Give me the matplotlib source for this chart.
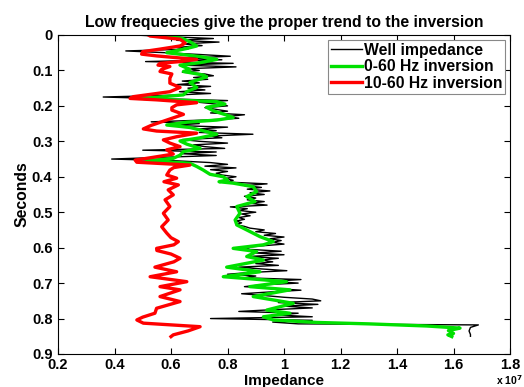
import numpy as np
import matplotlib
matplotlib.use("Agg")
import matplotlib.pyplot as plt
from matplotlib.ticker import FuncFormatter

plt.rcParams['font.family'] = ['Liberation Sans', 'DejaVu Sans']
plt.rcParams['font.weight'] = 'bold'

# impedance values in units of 1e7, time in seconds
well_t = [0.000, 0.005, 0.010, 0.015, 0.020, 0.025, 0.030, 0.035, 0.040, 0.045,
          0.050, 0.055, 0.060, 0.065, 0.070, 0.075, 0.080, 0.085, 0.090, 0.095,
          0.100, 0.105, 0.110, 0.115, 0.120, 0.125, 0.130, 0.135, 0.140, 0.145,
          0.150, 0.155, 0.160, 0.165, 0.170, 0.175, 0.180, 0.185, 0.190, 0.195,
          0.200, 0.205, 0.210, 0.215, 0.220, 0.225, 0.230, 0.235, 0.240, 0.245,
          0.250, 0.255, 0.260, 0.265, 0.270, 0.275, 0.280, 0.285, 0.290, 0.295,
          0.300, 0.305, 0.310, 0.315, 0.320, 0.325, 0.330, 0.335, 0.340, 0.345,
          0.350, 0.355, 0.360, 0.365, 0.370, 0.375, 0.380, 0.385, 0.390, 0.395,
          0.400, 0.405, 0.410, 0.415, 0.420, 0.425, 0.430, 0.435, 0.440, 0.445,
          0.450, 0.455, 0.460, 0.465, 0.470, 0.475, 0.480, 0.485, 0.490, 0.495,
          0.500, 0.505, 0.510, 0.515, 0.520, 0.525, 0.530, 0.535, 0.540, 0.545,
          0.550, 0.555, 0.560, 0.565, 0.570, 0.575, 0.580, 0.585, 0.590, 0.595,
          0.600, 0.605, 0.610, 0.615, 0.620, 0.625, 0.630, 0.635, 0.640, 0.645,
          0.650, 0.655, 0.660, 0.665, 0.670, 0.675, 0.680, 0.685, 0.690, 0.695,
          0.700, 0.705, 0.710, 0.715, 0.720, 0.725, 0.730, 0.735, 0.740, 0.745,
          0.750, 0.755, 0.760, 0.765, 0.770, 0.775, 0.780, 0.785, 0.790, 0.795,
          0.800, 0.805, 0.810, 0.815, 0.818, 0.825, 0.835, 0.845, 0.850]
well_v = [0.47, 0.60, 0.75, 0.62, 0.77, 0.64, 0.71, 0.62, 0.66, 0.44,
          0.58, 0.70, 0.81, 0.66, 0.78, 0.51, 0.82, 0.63, 0.83, 0.66,
          0.70, 0.64, 0.72, 0.75, 0.68, 0.73, 0.64, 0.70, 0.62, 0.74,
          0.66, 0.72, 0.63, 0.74, 0.60, 0.36, 0.58, 0.80, 0.70, 0.76,
          0.80, 0.72, 0.76, 0.80, 0.74, 0.86, 0.80, 0.84, 0.72, 0.53,
          0.70, 0.60, 0.80, 0.70, 0.76, 0.70, 0.89, 0.74, 0.78, 0.64,
          0.70, 0.80, 0.68, 0.72, 0.79, 0.50, 0.76, 0.64, 0.76, 0.58,
          0.39, 0.62, 0.74, 0.80, 0.72, 0.83, 0.74, 0.80, 0.76, 0.78,
          0.83, 0.79, 0.82, 0.80, 0.94, 0.86, 0.92, 0.87, 0.95, 0.88,
          0.93, 0.86, 0.90, 0.87, 0.93, 0.88, 0.94, 0.81, 0.87, 0.84,
          0.90, 0.85, 0.88, 0.84, 0.86, 0.83, 0.85, 0.83, 0.86, 0.88,
          0.93, 0.90, 0.97, 0.93, 1.00, 0.95, 0.99, 0.96, 1.00, 0.92,
          0.86, 0.88, 0.99, 0.90, 1.00, 0.87, 0.98, 0.92, 0.96, 0.90,
          0.98, 0.84, 0.92, 1.01, 0.88, 0.80, 0.90, 0.86, 1.06, 0.95,
          1.05, 0.92, 0.86, 0.96, 1.06, 0.95, 0.85, 0.93, 1.00, 1.10,
          1.13, 0.98, 1.12, 1.00, 1.10, 0.96, 0.84, 1.05, 0.98, 1.10,
          0.74, 1.10, 0.96, 1.05, 1.688, 1.66, 1.655, 1.66, 1.66]

green_t = [0.000, 0.010, 0.019, 0.031, 0.038, 0.050, 0.061, 0.069, 0.078, 0.085,
           0.097, 0.103, 0.113, 0.118, 0.134, 0.148, 0.160, 0.169, 0.179, 0.183,
           0.188, 0.195, 0.204, 0.214, 0.226, 0.233, 0.240, 0.246, 0.254, 0.261,
           0.268, 0.280, 0.290, 0.299, 0.308, 0.320, 0.329, 0.339, 0.348, 0.355,
           0.362, 0.371, 0.381, 0.393, 0.400, 0.409, 0.414, 0.418, 0.428, 0.442,
           0.456, 0.470, 0.484, 0.503, 0.522, 0.536, 0.550, 0.569, 0.583, 0.592,
           0.602, 0.611, 0.625, 0.635, 0.655, 0.668, 0.682, 0.696, 0.710, 0.719,
           0.738, 0.757, 0.776, 0.785, 0.795, 0.804, 0.811, 0.815, 0.821, 0.827,
           0.834, 0.842, 0.846, 0.851]
green_v = [0.58, 0.64, 0.667, 0.691, 0.656, 0.585, 0.703, 0.762, 0.703, 0.632,
           0.667, 0.644, 0.714, 0.726, 0.667, 0.691, 0.656, 0.644, 0.502, 0.60,
           0.762, 0.791, 0.726, 0.75, 0.797, 0.82, 0.762, 0.656, 0.585, 0.667,
           0.703, 0.762, 0.703, 0.632, 0.656, 0.703, 0.644, 0.632, 0.608, 0.514,
           0.667, 0.691, 0.714, 0.738, 0.785, 0.80, 0.77, 0.82, 0.891, 0.903,
           0.868, 0.897, 0.833, 0.844, 0.827, 0.833, 0.868, 0.915, 0.962, 0.927,
           0.82, 0.903, 0.868, 0.927, 0.797, 0.915, 0.785, 1.009, 0.879, 1.021,
           0.891, 1.033, 0.939, 1.021, 0.927, 0.962, 1.116, 1.30, 1.505, 1.623,
           1.582, 1.60, 1.58, 1.594]

red_t = [0.000, 0.003, 0.012, 0.023, 0.031, 0.040, 0.047, 0.054, 0.059, 0.069,
         0.075, 0.080, 0.085, 0.089, 0.097, 0.103, 0.110, 0.122, 0.136, 0.148,
         0.160, 0.174, 0.179, 0.183, 0.191, 0.197, 0.205, 0.212, 0.224, 0.240,
         0.255, 0.265, 0.271, 0.277, 0.287, 0.296, 0.305, 0.315, 0.324, 0.336,
         0.346, 0.353, 0.359, 0.367, 0.374, 0.381, 0.395, 0.404, 0.414, 0.423,
         0.437, 0.451, 0.465, 0.484, 0.503, 0.522, 0.541, 0.559, 0.572, 0.583,
         0.592, 0.602, 0.608, 0.618, 0.630, 0.640, 0.655, 0.668, 0.682, 0.696,
         0.710, 0.719, 0.738, 0.752, 0.771, 0.785, 0.796, 0.804, 0.813, 0.823,
         0.835, 0.846, 0.851]
red_v = [0.52, 0.526, 0.632, 0.65, 0.632, 0.56, 0.50, 0.496, 0.549, 0.691,
         0.632, 0.561, 0.554, 0.596, 0.567, 0.561, 0.603, 0.596, 0.596, 0.632,
         0.596, 0.467, 0.455, 0.549, 0.691, 0.62, 0.603, 0.603, 0.644, 0.585,
         0.53, 0.502, 0.549, 0.691, 0.62, 0.573, 0.596, 0.632, 0.585, 0.608,
         0.53, 0.473, 0.479, 0.667, 0.61, 0.596, 0.585, 0.62, 0.575, 0.626,
         0.59, 0.608, 0.579, 0.596, 0.573, 0.59, 0.567, 0.585, 0.60, 0.626,
         0.61, 0.549, 0.55, 0.60, 0.632, 0.61, 0.543, 0.62, 0.526, 0.656,
         0.561, 0.632, 0.561, 0.632, 0.549, 0.543, 0.50, 0.479, 0.502, 0.703,
         0.66, 0.608, 0.60]

x_ticks = [0.2, 0.4, 0.6, 0.8, 1.0, 1.2, 1.4, 1.6, 1.8]
y_ticks = [0, 0.1, 0.2, 0.3, 0.4, 0.5, 0.6, 0.7, 0.8, 0.9]

fig = plt.figure(figsize=(5.24, 3.87), dpi=100)
ax = fig.add_axes([0.1107, 0.0853, 0.8626, 0.8243])

ax.plot(well_v, well_t, color='black', lw=1.0, label='Well impedance')
ax.plot(green_v, green_t, color='#00e000', lw=2.4, label='0-60 Hz inversion')
ax.plot(red_v, red_t, color='#ff0000', lw=2.4, label='10-60 Hz inversion')

ax.set_xlim(0.2, 1.8)
ax.set_ylim(0.9, 0)
ax.set_xticks(x_ticks)
ax.set_yticks(y_ticks)
fmt = FuncFormatter(lambda v, p: ('%g' % round(v, 2)))
ax.xaxis.set_major_formatter(fmt)
ax.yaxis.set_major_formatter(fmt)
ax.tick_params(direction='in', top=True, right=True, labelsize=10.5, length=4)
ax.tick_params(axis='x', pad=3)
ax.tick_params(axis='y', pad=4)
for s in ax.spines.values():
    s.set_linewidth(0.8)

ax.set_title('Low frequecies give the proper trend to the inversion',
             fontsize=11.3, fontweight='bold', pad=6)
ax.set_ylabel('Seconds', fontsize=11.3, fontweight='bold', labelpad=2)
ax.set_xlabel('Impedance', fontsize=11, fontweight='bold', labelpad=1)
fig.text(0.997, 0.0, r'x 10$^7$', ha='right', va='bottom',
         fontsize=7.5, fontweight='bold')

leg = ax.legend(loc='upper right', fontsize=11.3, handlelength=2.0, handletextpad=0.1,
                borderpad=0.2, labelspacing=0.1, borderaxespad=0.3, fancybox=False,
                framealpha=1)
leg.get_frame().set_edgecolor('#888888')
leg.get_frame().set_linewidth(0.8)

fig.savefig('out.png', dpi=100)
